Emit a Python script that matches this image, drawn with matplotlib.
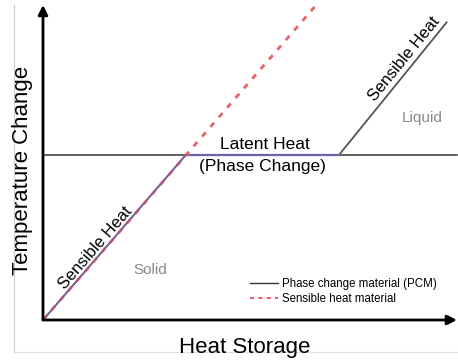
import numpy as np
import matplotlib.pyplot as plt
from matplotlib.lines import Line2D

plt.rcParams['font.family'] = ['Liberation Sans', 'DejaVu Sans']

# curve data (arbitrary units, heat storage vs temperature)
pcm_x = [0, 34.5, 71.5, 97.5]
pcm_y = [0, 52.4, 52.4, 94.5]
sens_x = [0, 66]
sens_y = [0, 100]
melt_temp = 52.4
plateau_x = [34.5, 71.5]

fig = plt.figure(figsize=(4.58, 3.6), dpi=100)
ax = fig.add_axes([43 / 458, 40 / 360, 414 / 458, 315 / 360])
ax.set_xlim(0, 100)
ax.set_ylim(0, 100)
ax.axis('off')

# melting temperature line across the whole plot
ax.plot([0, 100], [melt_temp, melt_temp], color='#555555', lw=1.3, clip_on=False)
ax.plot(pcm_x, pcm_y, color='#555555', lw=1.3)
ax.plot(plateau_x, [melt_temp, melt_temp], color='#6a64a8', lw=1.6)
ax.plot(sens_x, sens_y, color='#e8606a', lw=2.0, ls=(0, (2.0, 2.6)), clip_on=True)
ax.plot(pcm_x[:2], pcm_y[:2], color='#8a5aa0', lw=1.0)

# axes with arrows
arrow = dict(arrowstyle='-|>', color='black', lw=2, mutation_scale=14,
             shrinkA=0, shrinkB=0)
ax.annotate('', xy=(100, 0), xytext=(0, 0), arrowprops=arrow, annotation_clip=False)
ax.annotate('', xy=(0, 100), xytext=(0, 0), arrowprops=arrow, annotation_clip=False)


def angle(x0, y0, x1, y1):
    p0 = ax.transData.transform((x0, y0))
    p1 = ax.transData.transform((x1, y1))
    return np.degrees(np.arctan2(p1[1] - p0[1], p1[0] - p0[0]))


a1 = angle(pcm_x[0], pcm_y[0], pcm_x[1], pcm_y[1])
a2 = angle(pcm_x[2], pcm_y[2], pcm_x[3], pcm_y[3])
ax.text(12.6, 22.9, 'Sensible Heat', rotation=a1, rotation_mode='anchor',
        ha='center', va='center', fontsize=12)
ax.text(87.3, 82.8, 'Sensible Heat', rotation=a2, rotation_mode='anchor',
        ha='center', va='center', fontsize=12)
ax.text(53.6, 55.6, 'Latent Heat', ha='center', va='center', fontsize=12.5)
ax.text(52.9, 48.6, '(Phase Change)', ha='center', va='center', fontsize=12.5)
ax.text(25.8, 15.9, 'Solid', ha='center', va='center', fontsize=11, color='#888888')
ax.text(91.5, 64.1, 'Liquid', ha='center', va='center', fontsize=11, color='#888888')

handles = [Line2D([], [], color='#333333', lw=1),
           Line2D([], [], color='#e8606a', lw=1.5, ls=(0, (2, 2)))]
ax.legend(handles, ['Phase change material (PCM)', 'Sensible heat material'],
          frameon=False, fontsize=8.3, loc='upper left',
          bbox_to_anchor=(0.475, 0.165), handlelength=2.4, handletextpad=0.4,
          labelspacing=0.25)

fig.text(23 / 458, 1 - 170 / 360, 'Temperature Change', rotation=90,
         ha='center', va='center', fontsize=16)
fig.text(245 / 458, 1 - 347 / 360, 'Heat Storage', ha='center', va='center',
         fontsize=16)

# faint frame left from the source figure
fig.add_artist(Line2D([14 / 458, 14 / 458], [1 - 352 / 360, 1 - 5 / 360],
                      color='#cccccc', lw=0.8))
fig.add_artist(Line2D([14 / 458, 1], [1 - 352 / 360, 1 - 352 / 360],
                      color='#dddddd', lw=0.8))

fig.savefig('out.png', dpi=100)
